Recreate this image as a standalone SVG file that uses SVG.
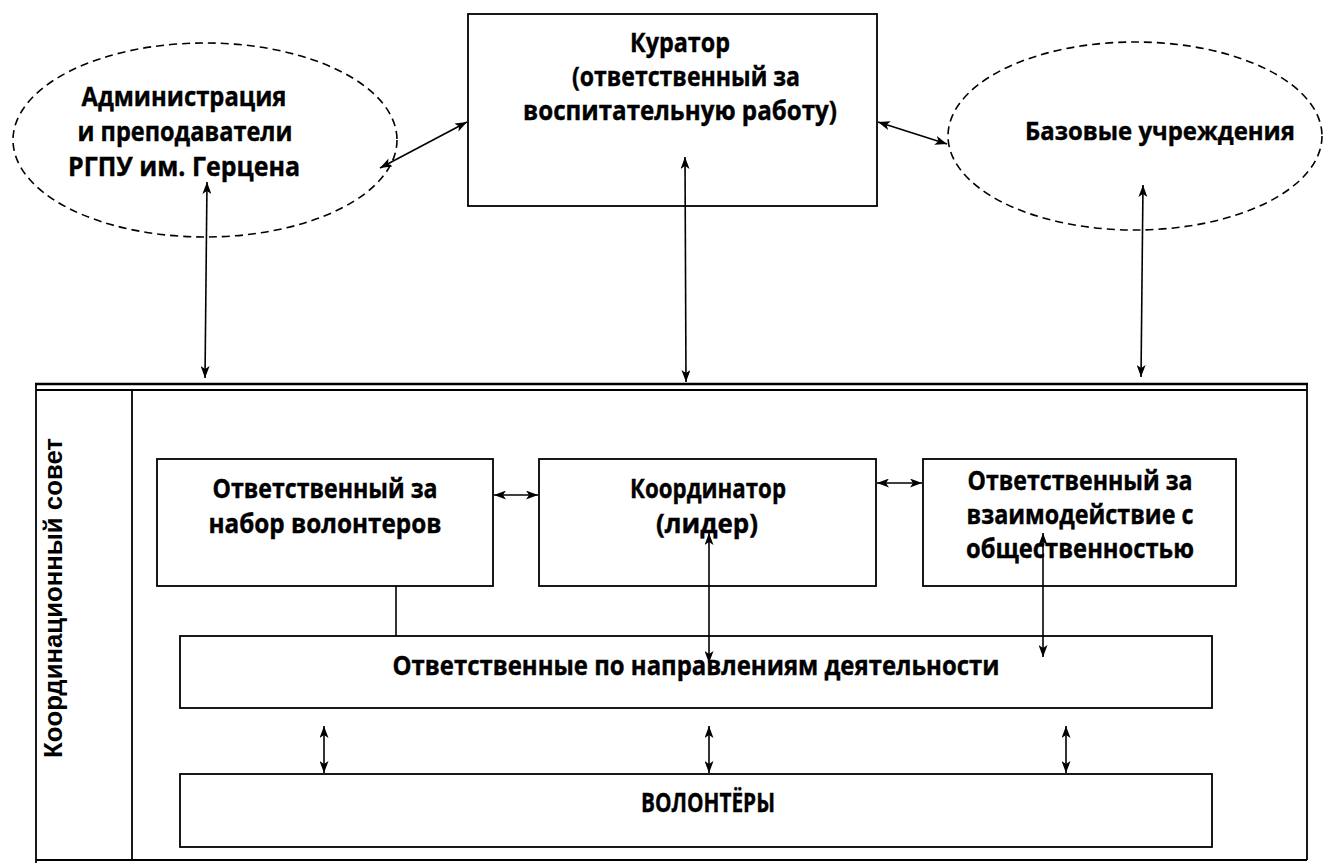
<svg xmlns="http://www.w3.org/2000/svg" width="1324" height="863" viewBox="0 0 1324 863">
<style>
  .box { fill: #ffffff; stroke: #000000; stroke-width: 1.8; }
  .ell { fill: none; stroke: #000000; stroke-width: 1.6; stroke-dasharray: 8 5; }
  .frame { fill: none; stroke: #000000; stroke-width: 1.8; }
  .conn { fill: none; stroke: #000000; stroke-width: 1.6; }
  .t { font-family: "Open Sans", "Noto Sans", "DejaVu Sans", sans-serif; font-weight: bold; font-size: 27px; fill: #000000; stroke: #000000; stroke-width: 0.4; text-anchor: middle; }
  .side { font-family: "Liberation Sans", Arial, sans-serif; font-weight: bold; font-size: 26px; fill: #000000; text-anchor: middle; }
</style>
<defs>
  <marker id="arr" viewBox="0 0 12 9" refX="12" refY="4.5" markerWidth="12" markerHeight="9" markerUnits="userSpaceOnUse" orient="auto-start-reverse">
    <path d="M0,0 L12,4.5 L0,9 L3,4.5 z" fill="#000000"/>
  </marker>
</defs>
<rect width="1324" height="863" fill="#ffffff"/>

<g id="frame">
  <line x1="35" y1="384" x2="1308" y2="384" stroke="#000" stroke-width="2.4"/>
  <line x1="36" y1="390" x2="1307" y2="390" stroke="#000" stroke-width="1.8"/>
  <line x1="36" y1="384" x2="36" y2="863" class="frame"/>
  <line x1="1307" y1="384" x2="1307" y2="860" class="frame"/>
  <line x1="36" y1="860" x2="1307" y2="860" class="frame"/>
  <line x1="132" y1="390" x2="132" y2="860" class="frame"/>
  <text class="side" transform="translate(62,598) rotate(-90)" textLength="320" lengthAdjust="spacingAndGlyphs">Координационный совет</text>
</g>

<g id="admin">
  <ellipse cx="205" cy="140" rx="192" ry="97" class="ell"/>
  <text class="t" x="184" y="106" textLength="205" lengthAdjust="spacingAndGlyphs">Администрация</text>
  <text class="t" x="185" y="141" textLength="215" lengthAdjust="spacingAndGlyphs">и преподаватели</text>
  <text class="t" x="184" y="176" textLength="232" lengthAdjust="spacingAndGlyphs">РГПУ им. Герцена</text>
</g>

<g id="curator">
  <rect x="468" y="14" width="409" height="192" class="box"/>
  <text class="t" x="680" y="52" textLength="100" lengthAdjust="spacingAndGlyphs">Куратор</text>
  <text class="t" x="686" y="86" textLength="228" lengthAdjust="spacingAndGlyphs">(ответственный за</text>
  <text class="t" x="680" y="120" textLength="314" lengthAdjust="spacingAndGlyphs">воспитательную работу)</text>
</g>

<g id="base">
  <ellipse cx="1135" cy="136" rx="187" ry="94" class="ell"/>
  <text class="t" x="1160" y="140" style="font-size:25px" textLength="270" lengthAdjust="spacingAndGlyphs">Базовые учреждения</text>
</g>

<g id="recruit">
  <rect x="157" y="459" width="336" height="127" class="box"/>
  <text class="t" x="325" y="498" textLength="225" lengthAdjust="spacingAndGlyphs">Ответственный за</text>
  <text class="t" x="325" y="533" textLength="233" lengthAdjust="spacingAndGlyphs">набор волонтеров</text>
</g>

<g id="coordinator">
  <rect x="539" y="459" width="337" height="127" class="box"/>
  <text class="t" x="708" y="498" textLength="156" lengthAdjust="spacingAndGlyphs">Координатор</text>
  <text class="t" x="707" y="533" textLength="102" lengthAdjust="spacingAndGlyphs">(лидер)</text>
</g>

<g id="public">
  <rect x="923" y="459" width="313" height="127" class="box"/>
  <text class="t" x="1080" y="490" textLength="225" lengthAdjust="spacingAndGlyphs">Ответственный за</text>
  <text class="t" x="1080" y="524" textLength="227" lengthAdjust="spacingAndGlyphs">взаимодействие с</text>
  <text class="t" x="1080" y="558" textLength="228" lengthAdjust="spacingAndGlyphs">общественностью</text>
</g>

<g id="directions">
  <rect x="180" y="636" width="1032" height="72" class="box"/>
  <text class="t" x="696" y="675" textLength="607" lengthAdjust="spacingAndGlyphs">Ответственные по направлениям деятельности</text>
</g>

<g id="volunteers">
  <rect x="180" y="774" width="1032" height="73" class="box"/>
  <text class="t" x="708" y="812" textLength="134" lengthAdjust="spacingAndGlyphs">ВОЛОНТЁРЫ</text>
</g>

<g id="connectors">
  <line x1="380" y1="168" x2="467" y2="122" class="conn" marker-start="url(#arr)" marker-end="url(#arr)"/>
  <line x1="878" y1="122" x2="947" y2="144" class="conn" marker-start="url(#arr)" marker-end="url(#arr)"/>
  <line x1="207" y1="182" x2="205" y2="378" class="conn" marker-start="url(#arr)" marker-end="url(#arr)"/>
  <line x1="685" y1="157" x2="686" y2="382" class="conn" marker-start="url(#arr)" marker-end="url(#arr)"/>
  <line x1="1143" y1="185" x2="1141" y2="377" class="conn" marker-start="url(#arr)" marker-end="url(#arr)"/>
  <line x1="494" y1="495" x2="538" y2="495" class="conn" marker-start="url(#arr)" marker-end="url(#arr)"/>
  <line x1="877" y1="483" x2="922" y2="483" class="conn" marker-start="url(#arr)" marker-end="url(#arr)"/>
  <line x1="396" y1="586" x2="396" y2="636" class="conn"/>
  <line x1="709" y1="533" x2="709" y2="663" class="conn" marker-start="url(#arr)" marker-end="url(#arr)"/>
  <line x1="1043" y1="533" x2="1043" y2="657" class="conn" marker-start="url(#arr)" marker-end="url(#arr)"/>
  <line x1="324" y1="726" x2="324" y2="773" class="conn" marker-start="url(#arr)" marker-end="url(#arr)"/>
  <line x1="709" y1="726" x2="709" y2="773" class="conn" marker-start="url(#arr)" marker-end="url(#arr)"/>
  <line x1="1066" y1="726" x2="1066" y2="773" class="conn" marker-start="url(#arr)" marker-end="url(#arr)"/>
</g>
</svg>
